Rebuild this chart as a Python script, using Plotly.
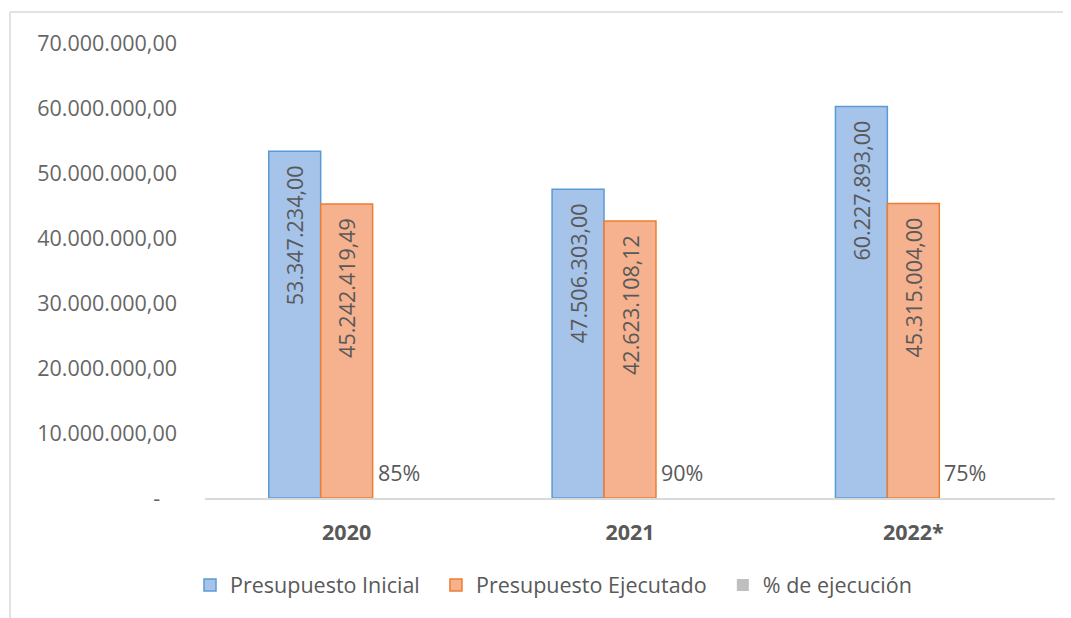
import plotly.graph_objects as go

years = ["2020", "2021", "2022*"]
inicial = [53347234.00, 47506303.00, 60227893.00]
ejecutado = [45242419.49, 42623108.12, 45315004.00]
pct = [0.85, 0.90, 0.75]

inicial_txt = ["53.347.234,00", "47.506.303,00", "60.227.893,00"]
ejecutado_txt = ["45.242.419,49", "42.623.108,12", "45.315.004,00"]
pct_txt = ["85%", "90%", "75%"]

ytick_vals = [0, 10e6, 20e6, 30e6, 40e6, 50e6, 60e6, 70e6]
ytick_text = ["-\u00a0\u00a0\u00a0", "10.000.000,00", "20.000.000,00", "30.000.000,00",
              "40.000.000,00", "50.000.000,00", "60.000.000,00", "70.000.000,00"]

FONT = "Open Sans"
GRAY = "#595959"
FS = 21.5
PAD = "\u00a0\u00a0"

W, H = 1063, 610
L, R, T, B = 197, 1047, 35, 490
BARGAP = 0.45

fig = go.Figure()
fig.add_trace(go.Bar(
    name="Presupuesto Inicial" + PAD, x=years, y=inicial, text=[t + PAD for t in inicial_txt],
    textposition="inside", insidetextanchor="end", textangle=-90,
    insidetextfont=dict(family=FONT, size=FS, color=GRAY),
    constraintext="none",
    marker=dict(color="#a6c3e9", line=dict(color="#5b9bd5", width=1.5)),
))
fig.add_trace(go.Bar(
    name="Presupuesto Ejecutado" + PAD, x=years, y=ejecutado, text=[t + PAD for t in ejecutado_txt],
    textposition="inside", insidetextanchor="end", textangle=-90,
    insidetextfont=dict(family=FONT, size=FS, color=GRAY),
    constraintext="none",
    marker=dict(color="#f6b18f", line=dict(color="#ed7d31", width=1.5)),
))
fig.add_trace(go.Bar(
    name="% de ejecución", x=years, y=pct,
    marker=dict(color="#bfbfbf", line=dict(color="#a5a5a5", width=0)),
))

# percent labels placed over the third bar of each group
cat_w = (R - L) / len(years)
bar_w = cat_w * (1 - BARGAP) / 3
annotations = [
    dict(x=i, y=v, xref="x", yref="y", text=t, showarrow=False,
         xshift=bar_w, yshift=26, yanchor="middle",
         font=dict(family=FONT, size=FS, color=GRAY))
    for i, (v, t) in enumerate(zip(pct, pct_txt))
]

def px(x):
    return (x - L) / (R - L)
def py(y):
    return (B - y) / (B - T)

fig.update_layout(
    width=W, height=H,
    margin=dict(l=L, r=W - R, t=T, b=H - B),
    paper_bgcolor="white", plot_bgcolor="white",
    barmode="group", bargap=BARGAP, bargroupgap=0,
    font=dict(family=FONT, color=GRAY),
    showlegend=True,
    legend=dict(orientation="h", x=0.41, xanchor="center", y=py(577), yanchor="middle",
                font=dict(family=FONT, size=FS, color=GRAY), itemwidth=30,
                traceorder="normal"),
    xaxis=dict(type="category", range=[-0.5, len(years) - 0.5], showgrid=False, showline=True,
               linecolor="#d9d9d9", linewidth=1.5, ticks="",
               tickfont=dict(family=FONT, size=FS, color=GRAY, weight="bold"),
               ticklabelstandoff=14),
    yaxis=dict(range=[0, 70e6], tickvals=ytick_vals, ticktext=ytick_text, showgrid=False,
               zeroline=False, showline=False, ticks="",
               tickfont=dict(family=FONT, size=FS, color="#666666"), ticklabelstandoff=27),
    annotations=annotations,
    shapes=[
        dict(type="line", xref="paper", yref="paper", x0=px(2), x1=px(W + 5), y0=py(4), y1=py(4),
             line=dict(color="#d9d9d9", width=1.5)),
        dict(type="line", xref="paper", yref="paper", x0=px(2), x1=px(2), y0=py(4), y1=py(H + 5),
             line=dict(color="#d9d9d9", width=1.5)),
    ],
)

fig.write_html("out.html")
